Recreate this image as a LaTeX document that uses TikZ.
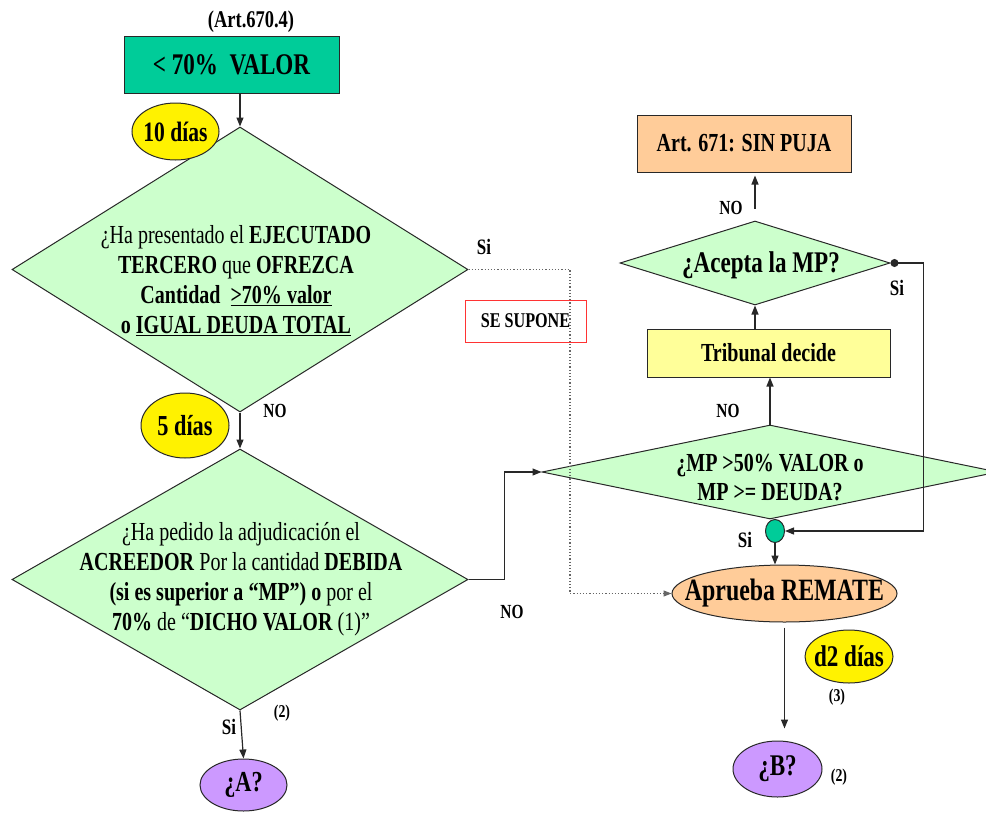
\documentclass[tikz,border=0pt]{standalone}
\usepackage{fontspec}
\setmainfont{Liberation Serif}[FakeStretch=0.77]
\usepackage{xcolor}
\usepackage{tikz}
\usetikzlibrary{arrows.meta, positioning, shapes.geometric}

\definecolor{tealbox}{RGB}{0,204,153}
\definecolor{paleg}{RGB}{204,255,204}
\definecolor{peach}{RGB}{255,204,153}
\definecolor{paley}{RGB}{255,255,153}
\definecolor{lila}{RGB}{204,153,255}
\definecolor{linec}{RGB}{40,40,40}

\newcommand{\fs}[2]{\fontsize{#1}{#2}\selectfont}

\begin{document}
\begin{tikzpicture}[
    x=1pt, y=-1pt,
    box/.style={rectangle, draw=linec, line width=1pt, inner sep=0pt, font=\bfseries\fs{26}{30}},
    decision/.style={diamond, draw=linec, line width=1pt, fill=paleg, inner sep=0pt},
    blob/.style={ellipse, draw=linec, line width=1pt, inner sep=0pt},
    txt/.style={align=center, inner sep=0pt, font=\fs{26}{30}},
    yes/.style={inner sep=0pt, font=\bfseries\fs{22}{22}},
    tag/.style={inner sep=0pt, font=\bfseries\fs{20}{20}},
    note/.style={inner sep=0pt, font=\bfseries\fs{18}{18}},
    arrow/.style={-{Triangle[length=9pt, width=7pt]}, draw=linec, line width=1.2pt},
    dotarrow/.style={-{Triangle[length=8pt, width=6pt]}, draw=black!60, dotted, line width=1.2pt}
  ]
    \clip (0,0) rectangle (986,812);

    \node[inner sep=0pt, font=\bfseries\fs{24}{24}] (art) at (251,22) {(Art.670.4)};
    \node[box, fill=tealbox, minimum width=215, minimum height=57, font=\bfseries\fs{30}{30}] (valor) at (231.5,64.5) {< 70\%\ \ VALOR};

    \node[decision, minimum width=456, minimum height=285] (q1) at (240,269.5) {};
    \node[txt] (q1txt) at (236,281) {¿Ha presentado el \textbf{EJECUTADO}\\
      \textbf{TERCERO} que \textbf{OFREZCA}\\
      \textbf{Cantidad \ \underline{>70\% valor}}\\
      \textbf{o \underline{IGUAL DEUDA TOTAL}}};

    \node[decision, minimum width=456, minimum height=261] (q2) at (240,579.5) {};
    \node[txt] (q2txt) at (241,579) {¿Ha pedido la adjudicación el\\
      \textbf{ACREEDOR} Por la cantidad \textbf{DEBIDA}\\
      \textbf{(si es superior a “MP”) o} por el\\
      \textbf{70\%} de “\textbf{DICHO VALOR} (1)”};

    \node[decision, minimum width=456, minimum height=94] (q3) at (770,472) {};
    \node[txt, font=\bfseries\fs{26}{29}] (q3txt) at (770,478) {¿MP >50\% VALOR o\\MP >= DEUDA?};

    \node[decision, minimum width=270, minimum height=84] (acepta) at (755,263) {};
    \node[txt, font=\bfseries\fs{30}{30}] (aceptatxt) at (761,265) {¿Acepta la MP?};

    \node[box, fill=peach, minimum width=214, minimum height=57] (sinpuja) at (744,143.5) {Art. 671: SIN PUJA};
    \node[box, fill=paley, minimum width=243, minimum height=48] (trib) at (768.5,353) {Tribunal decide};
    \node[box, draw=red!80, fill=white, minimum width=121, minimum height=42, font=\bfseries\fs{21}{21}] (supone) at (525.5,321) {SE SUPONE};

    \node[blob, fill=yellow, minimum width=87, minimum height=57] (d10) at (175.5,131.5) {};
    \node[txt, font=\bfseries\fs{28}{28}] (d10txt) at (d10) {10 días};
    \node[blob, fill=yellow, minimum width=88, minimum height=65] (d5) at (185,425.5) {};
    \node[txt, font=\bfseries\fs{29}{29}] (d5txt) at (d5) {5 días};
    \node[blob, fill=lila, minimum width=87, minimum height=52] (aa) at (243.5,785) {};
    \node[txt, font=\bfseries\fs{29}{29}] (aatxt) at (aa) {¿A?};
    \node[blob, fill=peach, minimum width=225, minimum height=57] (remate) at (784.5,593.5) {};
    \node[txt, font=\bfseries\fs{31}{31}] (rematetxt) at (remate) {Aprueba REMATE};
    \node[blob, fill=tealbox, minimum width=19, minimum height=23] (conn) at (775,531) {};
    \node[blob, fill=yellow, minimum width=88, minimum height=53] (d2) at (849,656.5) {};
    \node[txt, font=\bfseries\fs{30}{30}] (d2txt) at (d2) {d2 días};
    \node[blob, fill=lila, minimum width=89, minimum height=56] (bb) at (777.5,769) {};
    \node[txt, font=\bfseries\fs{30}{30}] (bbtxt) at (bb) {¿B?};

    \coordinate (dotturn) at (570,593.5);

    \draw[arrow] (valor.south -| q1.north) -- (q1.north);
    \draw[arrow] (q1.south) -- (q2.north);
    \draw[arrow] (q2.south) -- (aa.north);
    \draw[arrow] (q2.east) -- ++(36,0) |- (q3.west);
    \draw[arrow] (q3.north) -- (q3.north |- trib.south);
    \draw[arrow] (acepta.south |- trib.north) -- (acepta.south);
    \draw[arrow, shorten <=12pt, shorten >=3pt] (acepta.north) -- (acepta.north |- sinpuja.south);
    \draw[arrow, {Circle[length=8pt]}-{Triangle[length=9pt, width=7pt]}] (acepta.east) -- ++(33,0) |- (conn.east);
    \draw[arrow] (conn.south) -- (conn.south |- remate.north);
    \draw[arrow, shorten <=5pt, shorten >=12pt] (remate.south) -- (remate.south |- bb.north);
    \draw[dotarrow] (q1.east) -| (dotturn) -- (remate.west);

    \node[yes] (siq1) at (484,247) {Si};
    \node[tag] (noq1) at (275,411) {NO};
    \node[yes] (siq2) at (229,727) {Si};
    \node[note] (n2a) at (282,713) {(2)};
    \node[tag] (noq2) at (512,612) {NO};
    \node[tag] (noq3) at (728,411) {NO};
    \node[tag] (noacepta) at (731,208) {NO};
    \node[yes] (siacepta) at (897,288) {Si};
    \node[yes] (siconn) at (745,540) {Si};
    \node[note] (n3) at (837,697) {(3)};
    \node[note] (n2b) at (839,777) {(2)};
\end{tikzpicture}
\end{document}
